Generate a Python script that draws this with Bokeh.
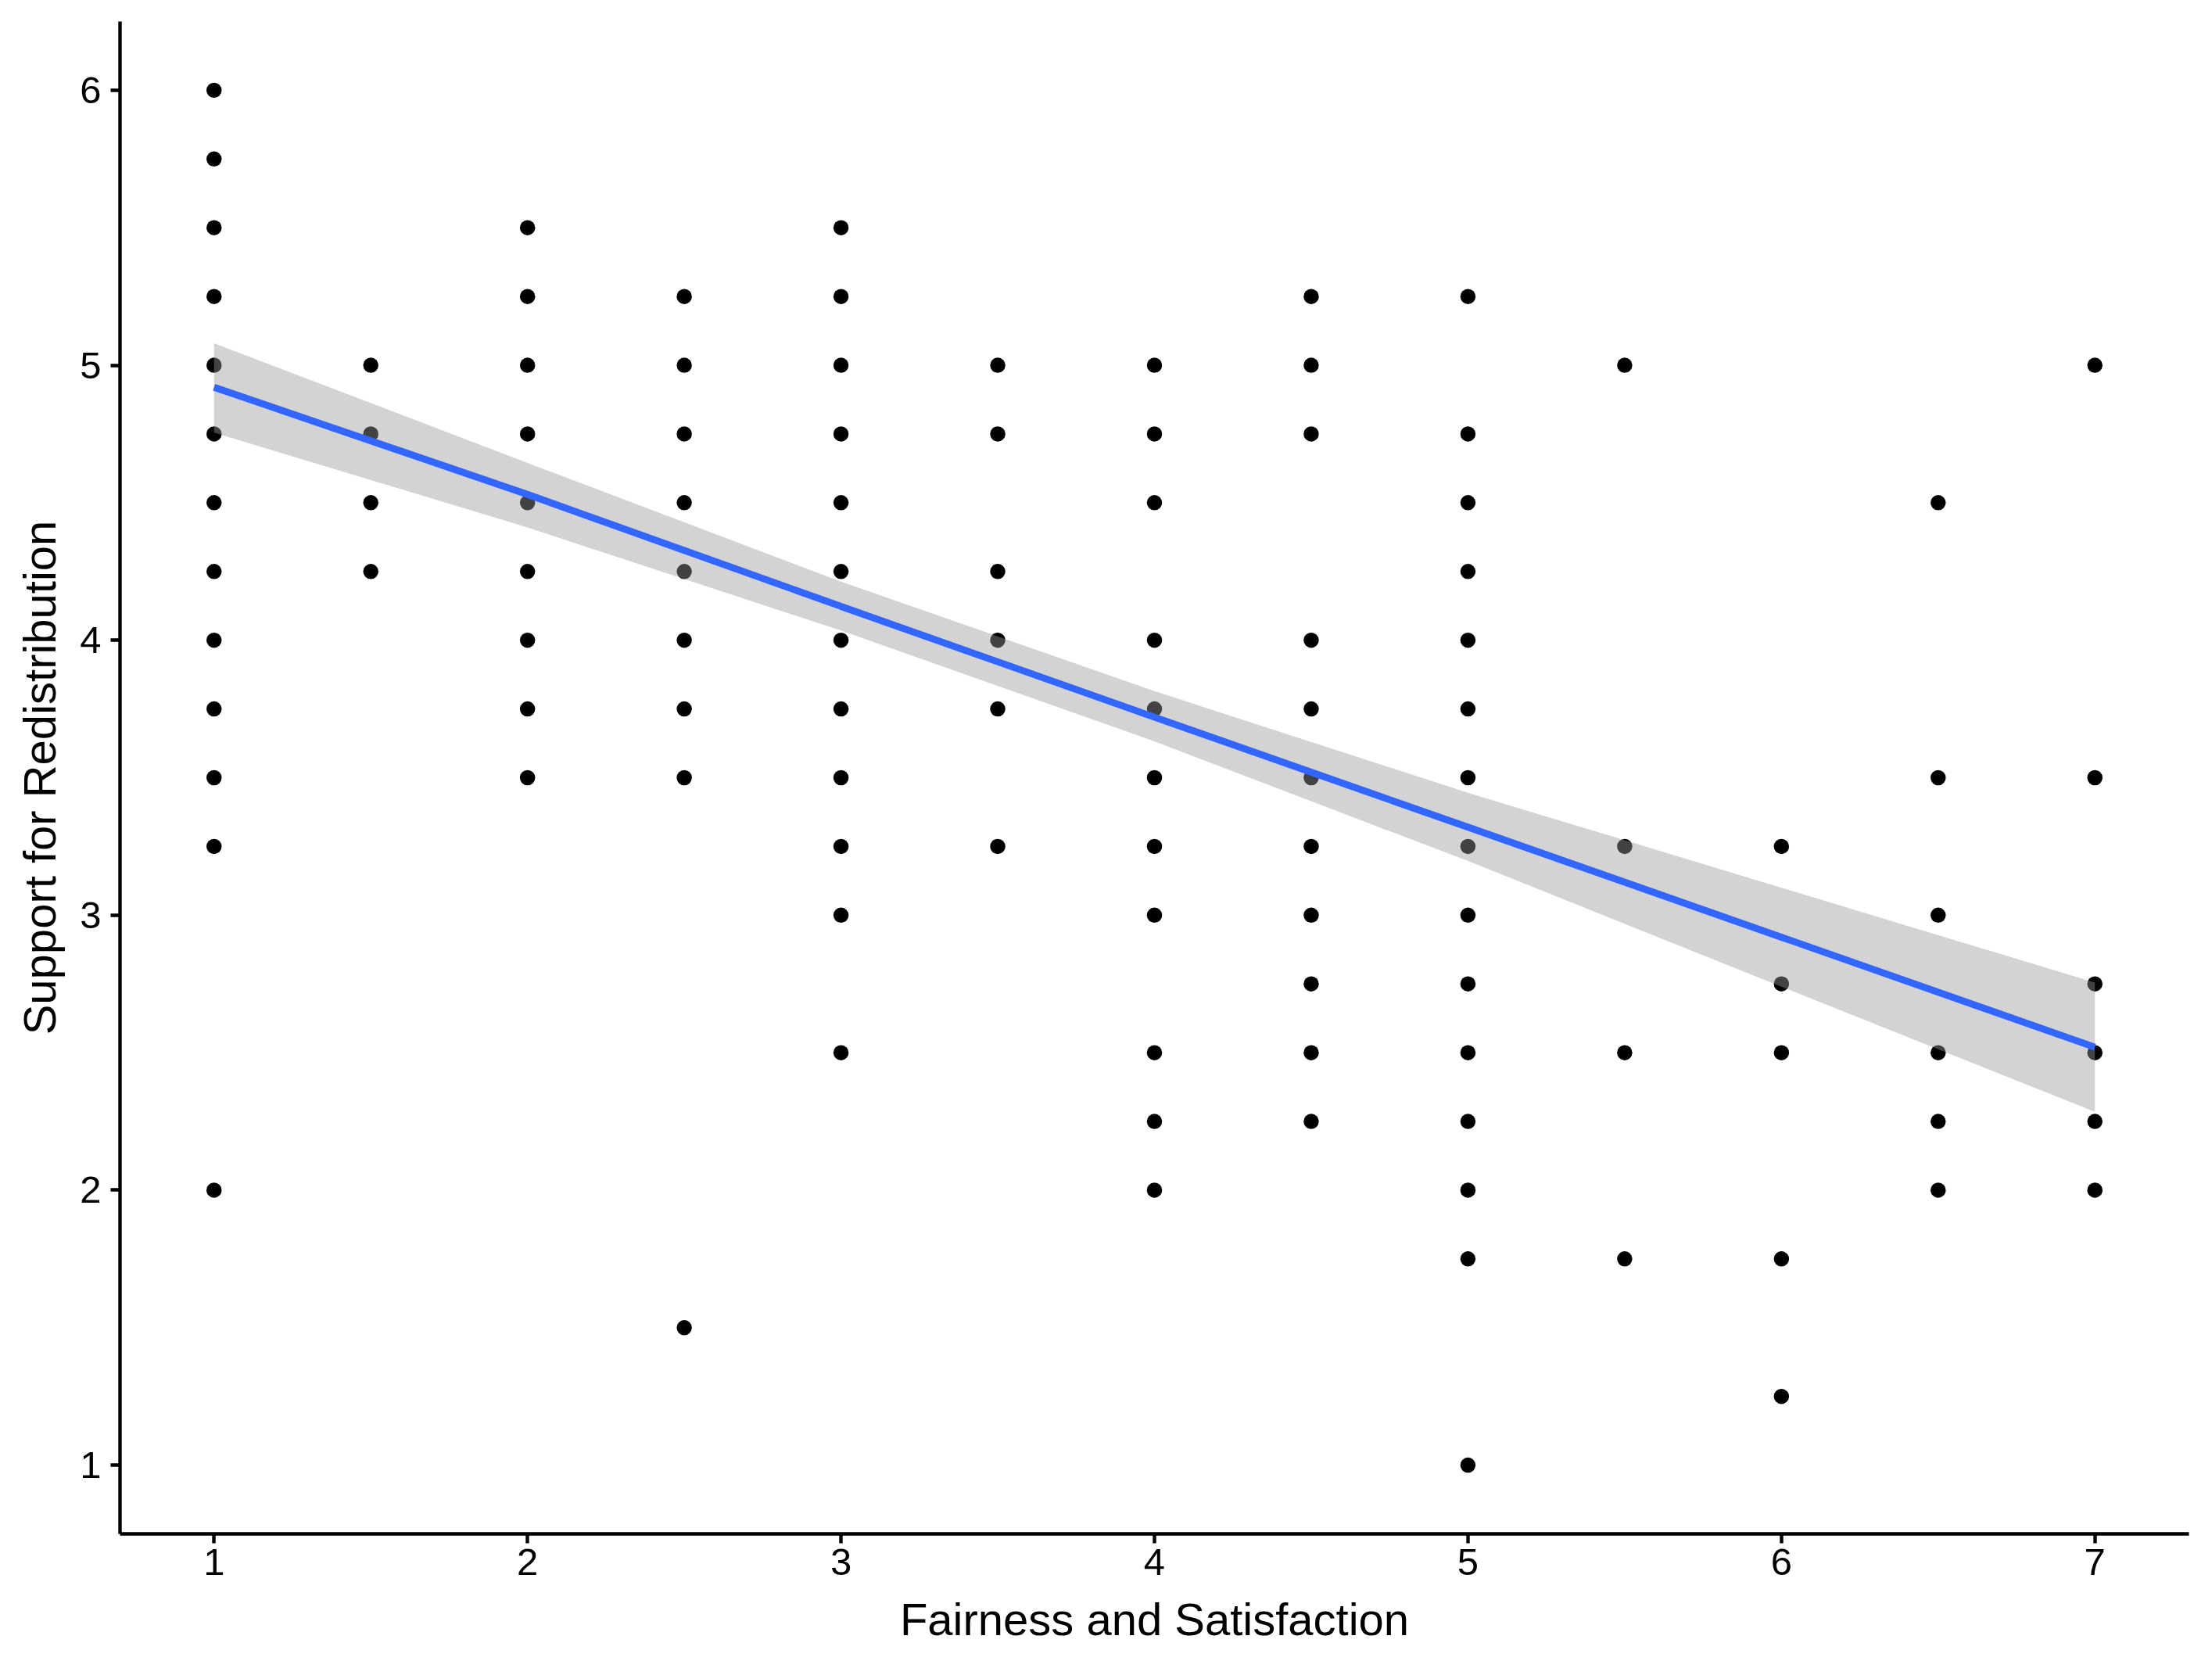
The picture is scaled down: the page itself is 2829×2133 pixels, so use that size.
from bokeh.plotting import figure
from bokeh.models import Range1d, FixedTicker
from bokeh.embed import file_html
from bokeh.resources import INLINE

# ---- data: Support for Redistribution values observed at each Fairness level ----
fairness_levels = [1, 1.5, 2, 2.5, 3, 3.5, 4, 4.5, 5, 5.5, 6, 6.5, 7]
support_at_1_0 = [6, 5.75, 5.5, 5.25, 5, 4.75, 4.5, 4.25, 4, 3.75, 3.5, 3.25, 2]
support_at_1_5 = [5, 4.75, 4.5, 4.25]
support_at_2_0 = [5.5, 5.25, 5, 4.75, 4.5, 4.25, 4, 3.75, 3.5]
support_at_2_5 = [5.25, 5, 4.75, 4.5, 4.25, 4, 3.75, 3.5, 1.5]
support_at_3_0 = [5.5, 5.25, 5, 4.75, 4.5, 4.25, 4, 3.75, 3.5, 3.25, 3, 2.5]
support_at_3_5 = [5, 4.75, 4.25, 4, 3.75, 3.25]
support_at_4_0 = [5, 4.75, 4.5, 4, 3.75, 3.5, 3.25, 3, 2.5, 2.25, 2]
support_at_4_5 = [5.25, 5, 4.75, 4, 3.75, 3.5, 3.25, 3, 2.75, 2.5, 2.25]
support_at_5_0 = [5.25, 4.75, 4.5, 4.25, 4, 3.75, 3.5, 3.25, 3, 2.75, 2.5, 2.25, 2, 1.75, 1]
support_at_5_5 = [5, 3.25, 2.5, 1.75]
support_at_6_0 = [3.25, 2.75, 2.5, 1.75, 1.25]
support_at_6_5 = [4.5, 3.5, 3, 2.5, 2.25, 2]
support_at_7_0 = [5, 3.5, 2.75, 2.5, 2.25, 2]

# linear fit and its confidence band
fit_x = [1, 2, 3, 4, 5, 6, 7]
fit_y = [4.92, 4.53, 4.123, 3.72, 3.32, 2.92, 2.52]
ci_upper = [5.08, 4.645, 4.213, 3.815, 3.445, 3.10, 2.755]
ci_lower = [4.755, 4.41, 4.035, 3.632, 3.197, 2.74, 2.285]

x_ticks = [1, 2, 3, 4, 5, 6, 7]
y_ticks = [1, 2, 3, 4, 5, 6]
x_title = "Fairness and Satisfaction"
y_title = "Support for Redistribution"

groups = [support_at_1_0, support_at_1_5, support_at_2_0, support_at_2_5, support_at_3_0,
          support_at_3_5, support_at_4_0, support_at_4_5, support_at_5_0, support_at_5_5,
          support_at_6_0, support_at_6_5, support_at_7_0]
xs, ys = [], []
for lvl, vals in zip(fairness_levels, groups):
    for v in vals:
        xs.append(lvl)
        ys.append(v)

FONT = "Liberation Sans"

p = figure(width=2813, height=2117,
           x_range=Range1d(0.7, 7.3), y_range=Range1d(0.75, 6.25),
           output_backend="svg", toolbar_location=None,
           min_border_left=153, min_border_right=14,
           min_border_top=27, min_border_bottom=156)

p.outline_line_color = None
p.background_fill_color = "white"
p.border_fill_color = "white"
p.xgrid.visible = False
p.ygrid.visible = False

p.scatter(xs, ys, size=19.5, color="black", line_color=None)
p.varea(x=fit_x, y1=ci_lower, y2=ci_upper, fill_color="#999999", fill_alpha=0.43)
p.line(fit_x, fit_y, line_color="#3366FF", line_width=8.9)

for ax in (p.xaxis[0], p.yaxis[0]):
    ax.axis_line_color = "black"
    ax.axis_line_width = 4.4
    ax.major_tick_line_color = "black"
    ax.major_tick_line_width = 4.4
    ax.major_tick_in = 0
    ax.major_tick_out = 12
    ax.minor_tick_line_color = None
    ax.major_label_text_font = FONT
    ax.major_label_text_font_size = "49px"
    ax.major_label_text_color = "black"
    ax.axis_label_text_font = FONT
    ax.axis_label_text_font_size = "58px"
    ax.axis_label_text_font_style = "normal"
    ax.axis_label_text_color = "black"

p.xaxis[0].ticker = FixedTicker(ticks=x_ticks)
p.yaxis[0].ticker = FixedTicker(ticks=y_ticks)
p.xaxis[0].axis_label = x_title
p.yaxis[0].axis_label = y_title
p.xaxis[0].major_label_standoff = 7
p.yaxis[0].major_label_standoff = 12
p.xaxis[0].axis_label_standoff = 21
p.yaxis[0].axis_label_standoff = 16

open("out.html", "w").write(file_html(p, INLINE))
